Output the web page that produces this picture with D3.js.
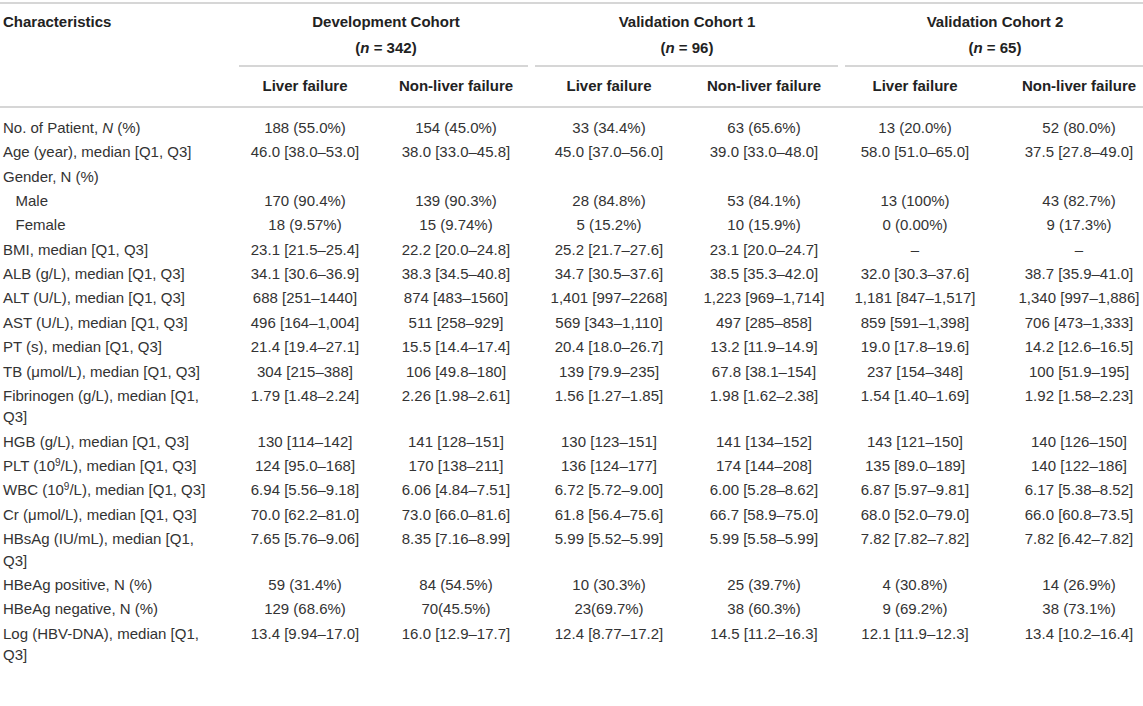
<!DOCTYPE html>
<html>
<head>
<meta charset="utf-8">
<script src="https://cdn.jsdelivr.net/npm/d3@7"></script>
<style>
body { margin: 0; background: #fff; }
text { font-family: "Liberation Sans", Arial, sans-serif; font-size: 15px; fill: #333; }
.head { font-weight: bold; fill: #222; }
.rule { stroke: #c9c9c9; stroke-width: 1.6; }
</style>
</head>
<body>
<svg id="table"></svg>
<script>
const width = 1143;
const height = 706;

// header texts
const cohorts = ["Development Cohort", "Validation Cohort 1", "Validation Cohort 2"];
const cohortSizes = [342, 96, 65];
const subgroups = ["Liver failure", "Non-liver failure"];

// row labels ("\n" = wrapped line, *x* = italic, ^x = superscript)
const characteristics = [
    "No. of Patient, *N* (%)",
    "Age (year), median [Q1, Q3]",
    "Gender, N (%)",
    "   Male",
    "   Female",
    "BMI, median [Q1, Q3]",
    "ALB (g/L), median [Q1, Q3]",
    "ALT (U/L), median [Q1, Q3]",
    "AST (U/L), median [Q1, Q3]",
    "PT (s), median [Q1, Q3]",
    "TB (μmol/L), median [Q1, Q3]",
    "Fibrinogen (g/L), median [Q1,\nQ3]",
    "HGB (g/L), median [Q1, Q3]",
    "PLT (10^9/L), median [Q1, Q3]",
    "WBC (10^9/L), median [Q1, Q3]",
    "Cr (μmol/L), median [Q1, Q3]",
    "HBsAg (IU/mL), median [Q1,\nQ3]",
    "HBeAg positive, N (%)",
    "HBeAg negative, N (%)",
    "Log (HBV-DNA), median [Q1,\nQ3]"
];

const devLiver = ["188 (55.0%)", "46.0 [38.0–53.0]", "", "170 (90.4%)", "18 (9.57%)", "23.1 [21.5–25.4]",
    "34.1 [30.6–36.9]", "688 [251–1440]", "496 [164–1,004]", "21.4 [19.4–27.1]", "304 [215–388]",
    "1.79 [1.48–2.24]", "130 [114–142]", "124 [95.0–168]", "6.94 [5.56–9.18]", "70.0 [62.2–81.0]",
    "7.65 [5.76–9.06]", "59 (31.4%)", "129 (68.6%)", "13.4 [9.94–17.0]"];
const devNonLiver = ["154 (45.0%)", "38.0 [33.0–45.8]", "", "139 (90.3%)", "15 (9.74%)", "22.2 [20.0–24.8]",
    "38.3 [34.5–40.8]", "874 [483–1560]", "511 [258–929]", "15.5 [14.4–17.4]", "106 [49.8–180]",
    "2.26 [1.98–2.61]", "141 [128–151]", "170 [138–211]", "6.06 [4.84–7.51]", "73.0 [66.0–81.6]",
    "8.35 [7.16–8.99]", "84 (54.5%)", "70(45.5%)", "16.0 [12.9–17.7]"];
const val1Liver = ["33 (34.4%)", "45.0 [37.0–56.0]", "", "28 (84.8%)", "5 (15.2%)", "25.2 [21.7–27.6]",
    "34.7 [30.5–37.6]", "1,401 [997–2268]", "569 [343–1,110]", "20.4 [18.0–26.7]", "139 [79.9–235]",
    "1.56 [1.27–1.85]", "130 [123–151]", "136 [124–177]", "6.72 [5.72–9.00]", "61.8 [56.4–75.6]",
    "5.99 [5.52–5.99]", "10 (30.3%)", "23(69.7%)", "12.4 [8.77–17.2]"];
const val1NonLiver = ["63 (65.6%)", "39.0 [33.0–48.0]", "", "53 (84.1%)", "10 (15.9%)", "23.1 [20.0–24.7]",
    "38.5 [35.3–42.0]", "1,223 [969–1,714]", "497 [285–858]", "13.2 [11.9–14.9]", "67.8 [38.1–154]",
    "1.98 [1.62–2.38]", "141 [134–152]", "174 [144–208]", "6.00 [5.28–8.62]", "66.7 [58.9–75.0]",
    "5.99 [5.58–5.99]", "25 (39.7%)", "38 (60.3%)", "14.5 [11.2–16.3]"];
const val2Liver = ["13 (20.0%)", "58.0 [51.0–65.0]", "", "13 (100%)", "0 (0.00%)", "–",
    "32.0 [30.3–37.6]", "1,181 [847–1,517]", "859 [591–1,398]", "19.0 [17.8–19.6]", "237 [154–348]",
    "1.54 [1.40–1.69]", "143 [121–150]", "135 [89.0–189]", "6.87 [5.97–9.81]", "68.0 [52.0–79.0]",
    "7.82 [7.82–7.82]", "4 (30.8%)", "9 (69.2%)", "12.1 [11.9–12.3]"];
const val2NonLiver = ["52 (80.0%)", "37.5 [27.8–49.0]", "", "43 (82.7%)", "9 (17.3%)", "–",
    "38.7 [35.9–41.0]", "1,340 [997–1,886]", "706 [473–1,333]", "14.2 [12.6–16.5]", "100 [51.9–195]",
    "1.92 [1.58–2.23]", "140 [126–150]", "140 [122–186]", "6.17 [5.38–8.52]", "66.0 [60.8–73.5]",
    "7.82 [6.42–7.82]", "14 (26.9%)", "38 (73.1%)", "13.4 [10.2–16.4]"];

const columns = [devLiver, devNonLiver, val1Liver, val1NonLiver, val2Liver, val2NonLiver];

// layout
const labelX = 3;
const firstRowY = 128;
const rowPitch = 24.35;
const wrapPitch = 21.5;

const svg = d3.select("#table")
    .attr("width", width)
    .attr("height", height);

const colX = d3.scaleOrdinal()
    .domain(d3.range(columns.length))
    .range([305, 456, 609, 764, 915, 1079]);
const groupX = d3.scaleOrdinal()
    .domain(cohorts)
    .range([386, 687, 995]);
const groupRule = d3.scaleOrdinal()
    .domain(cohorts)
    .range([[239, 528], [535, 838], [845, 1143]]);

// row centre positions, wrapped labels take more room
const lineCounts = characteristics.map(d => d.split("\n").length);
const rowY = [];
lineCounts.reduce((y, n, i) => {
    rowY[i] = y;
    return y + rowPitch + (n - 1) * wrapPitch;
}, firstRowY);

function addRichText(sel, str) {
    let parts = str.split(/(\*[^*]+\*|\^\d+)/).filter(p => p.length);
    let raised = false;
    parts.forEach(p => {
        let t = sel.append("tspan");
        if (raised) { t.attr("dy", 5); raised = false; }
        if (p.startsWith("*")) {
            t.text(p.slice(1, -1)).style("font-style", "italic");
        } else if (p.startsWith("^")) {
            t.text(p.slice(1)).attr("dy", -5).style("font-size", "10px");
            raised = true;
        } else {
            t.text(p);
        }
    });
}

// rules
svg.append("line").attr("class", "rule")
    .attr("x1", 0).attr("x2", width).attr("y1", 3).attr("y2", 3);
svg.append("line").attr("class", "rule")
    .attr("x1", 0).attr("x2", width).attr("y1", 107).attr("y2", 107);
svg.selectAll(".group-rule")
    .data(cohorts)
    .enter()
    .append("line")
    .attr("class", "rule group-rule")
    .attr("x1", d => groupRule(d)[0])
    .attr("x2", d => groupRule(d)[1])
    .attr("y1", 66)
    .attr("y2", 66);

// header
svg.append("text")
    .attr("class", "head")
    .attr("x", labelX)
    .attr("y", 27)
    .text("Characteristics");

svg.selectAll(".cohort")
    .data(cohorts)
    .enter()
    .append("text")
    .attr("class", "head cohort")
    .attr("text-anchor", "middle")
    .attr("x", d => groupX(d))
    .attr("y", 27)
    .text(d => d);

svg.selectAll(".cohort-n")
    .data(cohorts)
    .enter()
    .append("text")
    .attr("class", "head cohort-n")
    .attr("text-anchor", "middle")
    .attr("x", d => groupX(d))
    .attr("y", 53)
    .each(function(d, i) {
        let t = d3.select(this);
        t.append("tspan").text("(");
        t.append("tspan").text("n").style("font-style", "italic");
        t.append("tspan").text(` = ${cohortSizes[i]})`);
    });

svg.selectAll(".subgroup")
    .data(d3.range(columns.length))
    .enter()
    .append("text")
    .attr("class", "head subgroup")
    .attr("text-anchor", "middle")
    .attr("x", d => colX(d))
    .attr("y", 91)
    .text(d => subgroups[d % 2]);

// row labels
svg.selectAll(".label")
    .data(characteristics)
    .enter()
    .append("text")
    .attr("class", "label")
    .style("white-space", "pre")
    .each(function(d, i) {
        let t = d3.select(this);
        d.split("\n").forEach((line, j) => {
            let ln = t.append("tspan").attr("x", labelX).attr("y", rowY[i] + 5 + j * wrapPitch);
            addRichText(ln, line);
        });
    });

// cells
columns.forEach((col, c) => {
    svg.selectAll(`.cell-${c}`)
        .data(col)
        .enter()
        .append("text")
        .attr("class", `cell cell-${c}`)
        .attr("text-anchor", "middle")
        .attr("x", colX(c))
        .attr("y", (d, i) => rowY[i] + 5)
        .text(d => d);
});
</script>
</body>
</html>
